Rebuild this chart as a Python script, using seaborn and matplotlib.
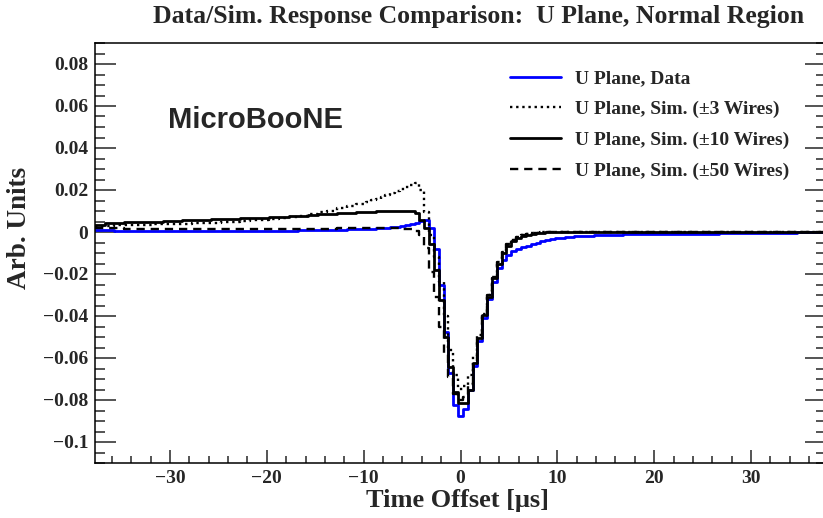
import numpy as np
import matplotlib
matplotlib.use("Agg")
import matplotlib.pyplot as plt
from matplotlib.lines import Line2D
from matplotlib.ticker import MultipleLocator, FuncFormatter
import seaborn as sns

# bin edges [us]: 1 us bins in the flat tails, 0.5 us bins around the pulse
edges = np.concatenate([
    np.arange(-37.75, -9.75, 1.0),
    np.arange(-9.75, 9.75, 0.5),
    np.arange(9.75, 37.76, 1.0),
])
centers = (edges[:-1] + edges[1:]) / 2

# U plane, data (blue)
data_u = [
    # tail  -37.25 .. -10.25
    0.0010, 0.0008, 0.0007, 0.0006, 0.0006, 0.0005, 0.0005, 0.0005, 0.0005, 0.0005,
    0.0005, 0.0005, 0.0005, 0.0005, 0.0006, 0.0006, 0.0006, 0.0006, 0.0007, 0.0007,
    0.0007, 0.0008, 0.0008, 0.0009, 0.0010, 0.0011, 0.0012, 0.0013,
    # pulse  -9.5 .. 9.5
    0.0014, 0.0016, 0.0017, 0.0019, 0.0021, 0.0023, 0.0026, 0.0029, 0.0033, 0.0038,
    0.0045, 0.0052, 0.0058, 0.0017, -0.0083, -0.0253, -0.0474, -0.0672, -0.0823, -0.0875,
    -0.0843, -0.0752, -0.0640, -0.0520, -0.0410, -0.0320, -0.0240, -0.0170, -0.0135, -0.0110,
    -0.0092, -0.0082, -0.0073, -0.0065, -0.0058, -0.0050, -0.0044, -0.0038, -0.0033,
    # tail  10.25 .. 37.25
    -0.0028, -0.0024, -0.0020, -0.0017, -0.0015, -0.0013, -0.0012, -0.0011, -0.0010, -0.0010,
    -0.0009, -0.0009, -0.0009, -0.0008, -0.0008, -0.0008, -0.0008, -0.0007, -0.0007, -0.0007,
    -0.0007, -0.0006, -0.0006, -0.0005, -0.0003, -0.0002, -0.0002, -0.0001,
]

# simulation, +-3 wires (dotted)
sim_3 = [
    0.0028, 0.0030, 0.0032, 0.0033, 0.0034, 0.0035, 0.0036, 0.0037, 0.0038, 0.0040,
    0.0041, 0.0043, 0.0045, 0.0047, 0.0049, 0.0052, 0.0055, 0.0058, 0.0062, 0.0066,
    0.0071, 0.0077, 0.0086, 0.0094, 0.0102, 0.0113, 0.0123, 0.0133,
    0.0143, 0.0151, 0.0159, 0.0167, 0.0175, 0.0184, 0.0193, 0.0203, 0.0214, 0.0226,
    0.0232, 0.0200, 0.0097, -0.0015, -0.0120, -0.0240, -0.0400, -0.0560, -0.0680, -0.0748,
    -0.0735, -0.0680, -0.0590, -0.0490, -0.0390, -0.0300, -0.0220, -0.0150, -0.0100, -0.0062,
    -0.0040, -0.0025, -0.0015, -0.0010, -0.0006, -0.0004, -0.0002, -0.0001, 0.0000,
    0.0000, 0.0000, 0.0000, 0.0000, 0.0000, 0.0000, 0.0000, 0.0000, 0.0000, 0.0000,
    0.0000, 0.0000, 0.0000, 0.0000, 0.0000, 0.0000, 0.0000, 0.0000, 0.0000, 0.0000,
    0.0000, 0.0000, 0.0000, 0.0000, 0.0000, 0.0000, 0.0000, 0.0000,
]

# simulation, +-10 wires (solid)
sim_10 = [
    0.0035, 0.0042, 0.0044, 0.0046, 0.0047, 0.0049, 0.0050, 0.0052, 0.0054, 0.0055,
    0.0057, 0.0059, 0.0060, 0.0062, 0.0064, 0.0065, 0.0067, 0.0069, 0.0071, 0.0073,
    0.0076, 0.0078, 0.0081, 0.0084, 0.0087, 0.0090, 0.0092, 0.0094,
    0.0096, 0.0097, 0.0098, 0.0099, 0.0100, 0.0100, 0.0101, 0.0101, 0.0101, 0.0100,
    0.0090, 0.0057, 0.0018, -0.0055, -0.0180, -0.0324, -0.0498, -0.0641, -0.0760, -0.0812,
    -0.0812, -0.0752, -0.0625, -0.0506, -0.0395, -0.0308, -0.0221, -0.0150, -0.0102, -0.0065,
    -0.0045, -0.0030, -0.0020, -0.0013, -0.0008, -0.0005, -0.0003, -0.0002, -0.0001,
    -0.0001, 0.0000, 0.0000, 0.0000, 0.0000, 0.0000, 0.0000, 0.0000, 0.0000, 0.0000,
    0.0000, 0.0000, 0.0000, 0.0000, 0.0000, 0.0000, 0.0000, 0.0000, 0.0000, 0.0000,
    0.0000, 0.0000, 0.0000, 0.0000, 0.0000, 0.0000, 0.0000, 0.0000,
]

# simulation, +-50 wires (dashed)
sim_50 = [
    0.0019, 0.0018, 0.0017, 0.0016, 0.0016, 0.0015, 0.0015, 0.0015, 0.0014, 0.0014,
    0.0014, 0.0014, 0.0014, 0.0014, 0.0014, 0.0014, 0.0014, 0.0014, 0.0015, 0.0015,
    0.0015, 0.0015, 0.0016, 0.0016, 0.0016, 0.0017, 0.0017, 0.0017,
    0.0018, 0.0018, 0.0018, 0.0018, 0.0018, 0.0018, 0.0017, 0.0016, 0.0015, 0.0012,
    0.0006, -0.0014, -0.0077, -0.0190, -0.0310, -0.0450, -0.0580, -0.0690, -0.0770, -0.0800,
    -0.0785, -0.0725, -0.0620, -0.0500, -0.0390, -0.0300, -0.0215, -0.0145, -0.0095, -0.0058,
    -0.0036, -0.0022, -0.0013, -0.0008, -0.0005, -0.0003, -0.0002, -0.0001, 0.0000,
    0.0000, 0.0000, 0.0000, 0.0000, 0.0000, 0.0000, 0.0000, 0.0000, 0.0000, 0.0000,
    0.0000, 0.0000, 0.0000, 0.0000, 0.0000, 0.0000, 0.0000, 0.0000, 0.0000, 0.0000,
    0.0000, 0.0000, 0.0000, 0.0000, 0.0000, 0.0000, 0.0000, 0.0000,
]

labels = [
    "U Plane, Data",
    "U Plane, Sim. (\u00b13 Wires)",
    "U Plane, Sim. (\u00b110 Wires)",
    "U Plane, Sim. (\u00b150 Wires)",
]

sns.set_theme(style="ticks")
plt.rcParams["font.family"] = ["Liberation Serif", "DejaVu Serif"]
plt.rcParams["font.weight"] = "bold"

W, H = 823, 518
fig = plt.figure(figsize=(W / 100, H / 100), dpi=100)
ax = fig.add_axes([95 / W, 55 / H, 731 / W, 420 / H])

dotted = (0, (1, 1.6))
dashed = (0, (3.5, 2.5))
series = [
    (data_u, "#0000ff", "-", 2.0),
    (sim_3, "black", dotted, 1.7),
    (sim_10, "black", "-", 2.0),
    (sim_50, "black", dashed, 1.7),
]
bin_list = [float(e) for e in edges]
for vals, col, ls, lw in series:
    sns.histplot(x=centers, weights=np.asarray(vals), bins=bin_list, element="step",
                 fill=False, color=col, linestyle=ls, linewidth=lw, ax=ax)

ax.set_xlim(-37.75, 37.75)
ax.set_ylim(-0.11, 0.09)
ax.set_xlabel("")
ax.set_ylabel("")

ax.xaxis.set_major_locator(MultipleLocator(10))
ax.xaxis.set_minor_locator(MultipleLocator(2))
ax.yaxis.set_major_locator(MultipleLocator(0.02))
ax.yaxis.set_minor_locator(MultipleLocator(0.005))


def fmt(v, pos):
    if abs(v) < 1e-9:
        return "0"
    return f"{round(v, 4):g}".replace("-", "\u2212")


ax.xaxis.set_major_formatter(FuncFormatter(fmt))
ax.yaxis.set_major_formatter(FuncFormatter(fmt))

ax.tick_params(axis="x", which="major", direction="in", length=9.4, width=1.1,
               top=False, labelsize=14, pad=5)
ax.tick_params(axis="x", which="minor", direction="in", length=4.7, width=1.1, top=False)
ax.tick_params(axis="y", which="major", direction="in", length=15, width=1.1,
               left=True, right=True, labelsize=14, pad=5)
ax.tick_params(axis="y", which="minor", direction="in", length=7.5, width=1.1,
               left=True, right=True)
for sp in ax.spines.values():
    sp.set_linewidth(1.1)
    sp.set_color("black")

handles = [Line2D([], [], color=c, linestyle=ls, linewidth=lw) for _, c, ls, lw in series]
ax.legend(handles, labels, loc="upper left", bbox_to_anchor=(510 / W, 1 - 70 / H),
          bbox_transform=fig.transFigure, frameon=False, fontsize=14,
          handlelength=2.6, handletextpad=0.75, labelspacing=0.67,
          borderpad=0, borderaxespad=0)

fig.text(479 / W, 1 - 16 / H, "Data/Sim. Response Comparison:  U Plane, Normal Region",
         ha="center", va="center", fontsize=18.5, fontweight="bold")
fig.text(458 / W, 1 - 500 / H, "Time Offset [\u03bcs]", ha="center", va="center",
         fontsize=19, fontweight="bold")
fig.text(20 / W, 1 - 228 / H, "Arb. Units", ha="center", va="center", rotation=90,
         fontsize=19.5, fontweight="bold")
fig.text(168 / W, 1 - 120 / H, "MicroBooNE", ha="left", va="center",
         fontsize=21, fontweight="bold", family=["Liberation Sans", "DejaVu Sans"])

fig.savefig("out.png", dpi=100)
